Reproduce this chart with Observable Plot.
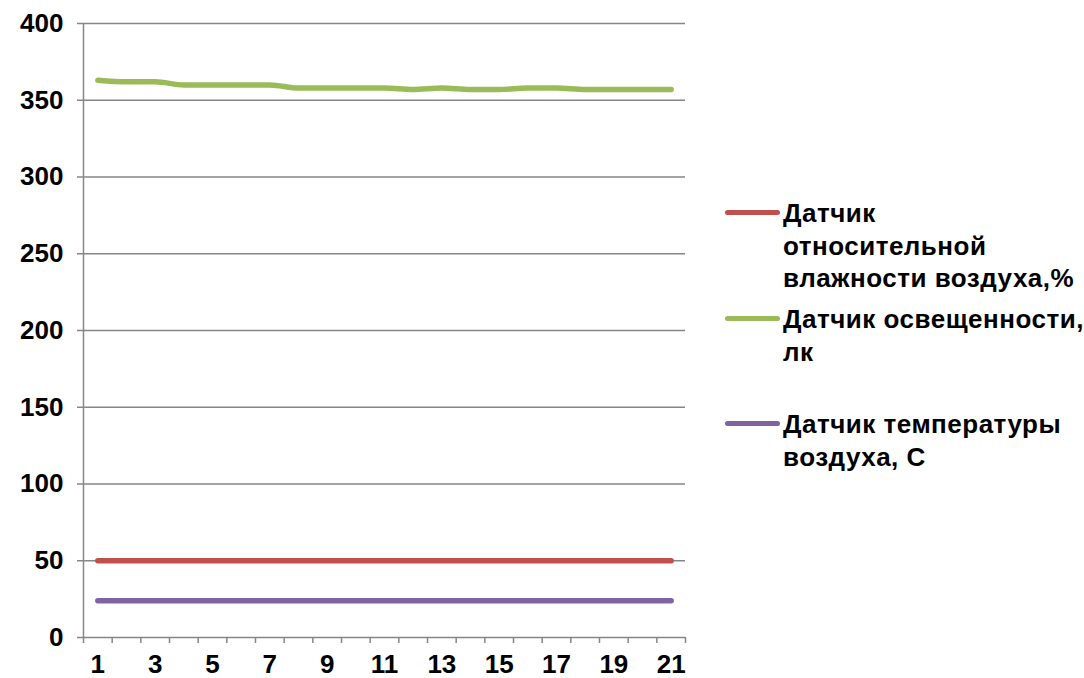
<!DOCTYPE html>
<html><head><meta charset="utf-8">
<script src="https://cdn.jsdelivr.net/npm/d3@7"></script>
<script src="https://cdn.jsdelivr.net/npm/@observablehq/plot@0.6"></script>
<style>
body{margin:0;background:#fff;font-family:"Liberation Sans",Arial,sans-serif;}
#wrap{position:relative;width:1084px;height:678px;}
.leg{position:absolute;font-weight:bold;font-size:26px;line-height:32.5px;letter-spacing:0.5px;color:#000;white-space:nowrap;}
.sw{position:absolute;height:5px;border-radius:3px;width:55px;}
</style></head>
<body><div id="wrap"></div>
<script>
const days = d3.range(1, 22);
const humidity = [50,50,50,50,50,50,50,50,50,50,50,50,50,50,50,50,50,50,50,50,50];
const light = [363,362,362,360,360,360,360,358,358,358,358,357,358,357,357,358,358,357,357,357,357];
const temperature = [24,24,24,24,24,24,24,24,24,24,24,24,24,24,24,24,24,24,24,24,24];
const seriesNames = ["Датчик относительной влажности воздуха,%", "Датчик освещенности, лк", "Датчик температуры воздуха, С"];
const seriesColors = ["#C0504D", "#9BBB59", "#8064A2"];
const yTicks = [0,50,100,150,200,250,300,350,400];
const xLabels = [1,3,5,7,9,11,13,15,17,19,21];

const rows = [];
[humidity, light, temperature].forEach((vals, s) => vals.forEach((v, i) => rows.push({day: days[i], value: v, series: seriesNames[s]})));
const boundaries = d3.range(0.5, 22, 1);
const grid = "#868686";

const chart = Plot.plot({
  width: 1084, height: 678,
  marginLeft: 83, marginRight: 399, marginTop: 23, marginBottom: 41,
  style: {fontFamily: '"Liberation Sans", Arial, sans-serif', fontSize: "26px", fontWeight: "bold", color: "#000", overflow: "visible"},
  x: {domain: [0.5, 21.5]},
  y: {domain: [0, 400]},
  color: {domain: seriesNames, range: seriesColors},
  marks: [
    Plot.ruleY(yTicks, {stroke: grid, strokeWidth: 1.5}),
    Plot.ruleX([0.5], {stroke: grid, strokeWidth: 1.5}),
    Plot.axisY(yTicks, {tickSize: 6, tickPadding: 14, stroke: grid, strokeWidth: 1.5, label: null, fontWeight: "bold", fontSize: 26}),
    Plot.axisX(boundaries, {tickSize: 6, tickFormat: () => "", stroke: grid, strokeWidth: 1.5, label: null}),
    Plot.axisX(xLabels, {tickSize: 0, tickPadding: 17, label: null, fontWeight: "bold", fontSize: 26}),
    Plot.line(rows, {x: "day", y: "value", z: "series", stroke: "series", strokeWidth: 5.5, strokeLinecap: "round", curve: "monotone-x"})
  ]
});
const wrap = document.getElementById("wrap");
wrap.appendChild(chart);

const legendItems = [
  {lines: ["Датчик", "относительной", "влажности воздуха,%"], top: 197, lineY: 212},
  {lines: ["Датчик освещенности,", "лк"], top: 303, lineY: 318},
  {lines: ["Датчик температуры", "воздуха, С"], top: 408, lineY: 423}
];
legendItems.forEach((it, i) => {
  const sw = document.createElement("div");
  sw.className = "sw";
  sw.style.left = "725px"; sw.style.top = (it.lineY - 2.5) + "px";
  sw.style.background = seriesColors[i];
  wrap.appendChild(sw);
  const t = document.createElement("div");
  t.className = "leg";
  t.style.left = "783px"; t.style.top = it.top + "px";
  t.innerHTML = it.lines.join("<br>");
  wrap.appendChild(t);
});
</script></body></html>
